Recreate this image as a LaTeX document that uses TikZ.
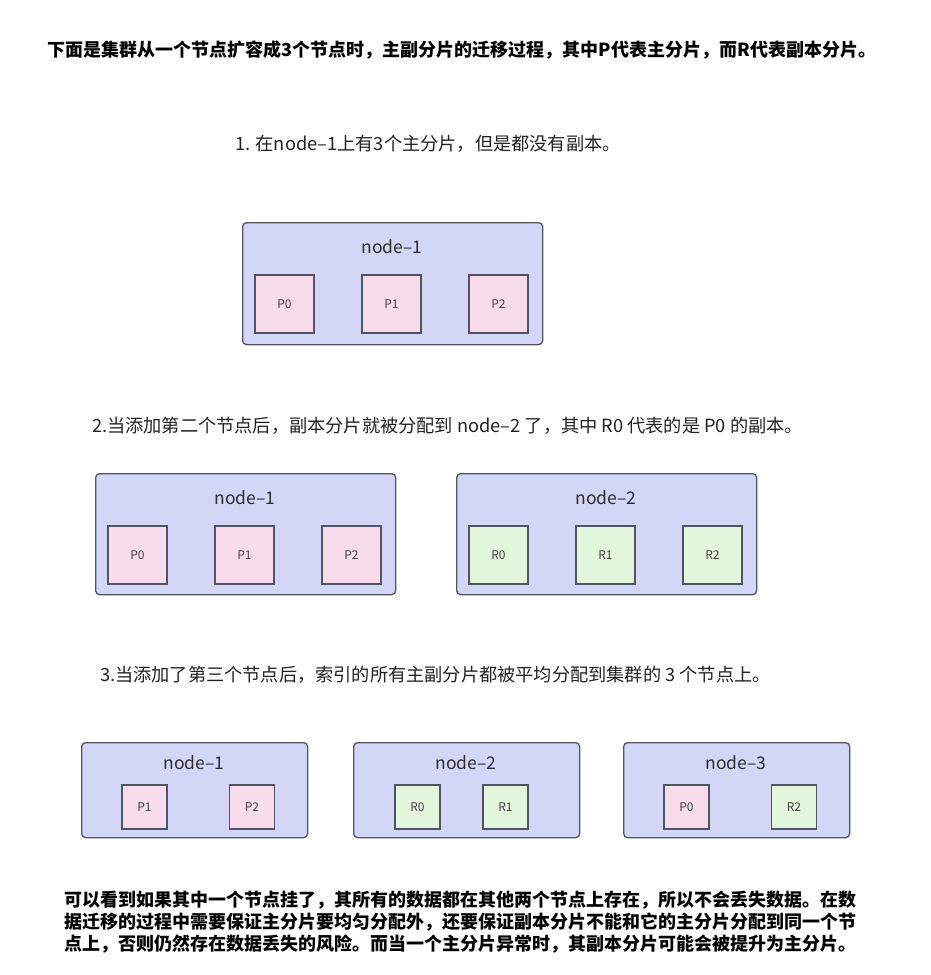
\documentclass[tikz,border=0pt]{standalone}
\usepackage{fontspec}
\setmainfont{Noto Sans CJK SC}
\definecolor{grpfill}{HTML}{D4D6F7}
\definecolor{bord}{HTML}{4F5562}
\definecolor{pfill}{HTML}{F9DCEC}
\definecolor{rfill}{HTML}{E3F5DA}
\definecolor{txt}{HTML}{222222}
\tikzset{
  grp/.style={draw=bord, fill=grpfill, rounded corners=4pt, line width=1.3pt, anchor=north west, inner sep=0pt},
  grplbl/.style={font=\fontsize{17.5}{19}\selectfont, text=txt!95, inner sep=0pt},
  shard/.style={draw=bord, line width=1.3pt, minimum width=59pt, minimum height=58pt, inner sep=0pt, font=\fontsize{12}{13}\selectfont, text=txt!85},
  sshard/.style={shard, minimum width=45pt, minimum height=44pt},
  ptxt/.style={font=\fontsize{18.2}{20}\selectfont, text=txt, inner sep=0pt},
  btxt/.style={font=\bfseries\fontsize{18}{20}\selectfont, text=black, inner sep=0pt}
}
\begin{document}
\begin{tikzpicture}[x=1pt,y=-1pt]
\useasboundingbox[fill=white] (0,0) rectangle (931,975);
% title
\node[btxt] (title) at (462,50) {下面是集群从一个节点扩容成3个节点时，主副分片的迁移过程，其中P代表主分片，而R代表副本分片。};
% step 1
\node[ptxt, anchor=west] (t1) at (235,144) {1. 在node–1上有3个主分片，但是都没有副本。};
\node[grp, minimum width=300pt, minimum height=122pt] (a1) at (242,222) {};
\node[grplbl] (a1l) at (392,247) {node–1};
\node[shard, fill=pfill] (a1p0) at (284.5,304) {P0};
\node[shard, fill=pfill] (a1p1) at (391.5,304) {P1};
\node[shard, fill=pfill] (a1p2) at (498.5,304) {P2};
% step 2
\node[ptxt, anchor=west] (t2) at (92,426) {2.当添加第二个节点后，副本分片就被分配到 node–2 了，其中 R0 代表的是 P0 的副本。};
\node[grp, minimum width=300pt, minimum height=121pt] (b1) at (95,473) {};
\node[grplbl] (b1l) at (245,498) {node–1};
\node[shard, fill=pfill] (b1p0) at (137.5,555) {P0};
\node[shard, fill=pfill] (b1p1) at (244.5,555) {P1};
\node[shard, fill=pfill] (b1p2) at (351.5,555) {P2};
\node[grp, minimum width=300pt, minimum height=121pt] (b2) at (456,473) {};
\node[grplbl] (b2l) at (606,498) {node–2};
\node[shard, fill=rfill] (b2r0) at (498.5,555) {R0};
\node[shard, fill=rfill] (b2r1) at (605.5,555) {R1};
\node[shard, fill=rfill] (b2r2) at (712.5,555) {R2};
% step 3
\node[ptxt, anchor=west] (t3) at (100,675) {3.当添加了第三个节点后，索引的所有主副分片都被平均分配到集群的 3 个节点上。};
\node[grp, minimum width=226pt, minimum height=95pt] (c1) at (81,742) {};
\node[grplbl] (c1l) at (194,763) {node–1};
\node[sshard, fill=pfill] (c1p1) at (144.5,807) {P1};
\node[sshard, fill=pfill] (c1p2) at (252,807) {P2};
\node[grp, minimum width=226pt, minimum height=95pt] (c2) at (353,742) {};
\node[grplbl] (c2l) at (466,763) {node–2};
\node[sshard, fill=rfill] (c2r0) at (417.5,807) {R0};
\node[sshard, fill=rfill] (c2r1) at (505.5,807) {R1};
\node[grp, minimum width=226pt, minimum height=95pt] (c3) at (623,742) {};
\node[grplbl] (c3l) at (736,763) {node–3};
\node[sshard, fill=pfill] (c3p0) at (686.5,807) {P0};
\node[sshard, fill=rfill] (c3r2) at (794,807) {R2};
% bottom paragraph
\node[btxt, anchor=west] (s1) at (64,900) {可以看到如果其中一个节点挂了，其所有的数据都在其他两个节点上存在，所以不会丢失数据。在数};
\node[btxt, anchor=west] (s2) at (64,922) {据迁移的过程中需要保证主分片要均匀分配外，还要保证副本分片不能和它的主分片分配到同一个节};
\node[btxt, anchor=west] (s3) at (64,944) {点上，否则仍然存在数据丢失的风险。而当一个主分片异常时，其副本分片可能会被提升为主分片。};
\end{tikzpicture}
\end{document}
